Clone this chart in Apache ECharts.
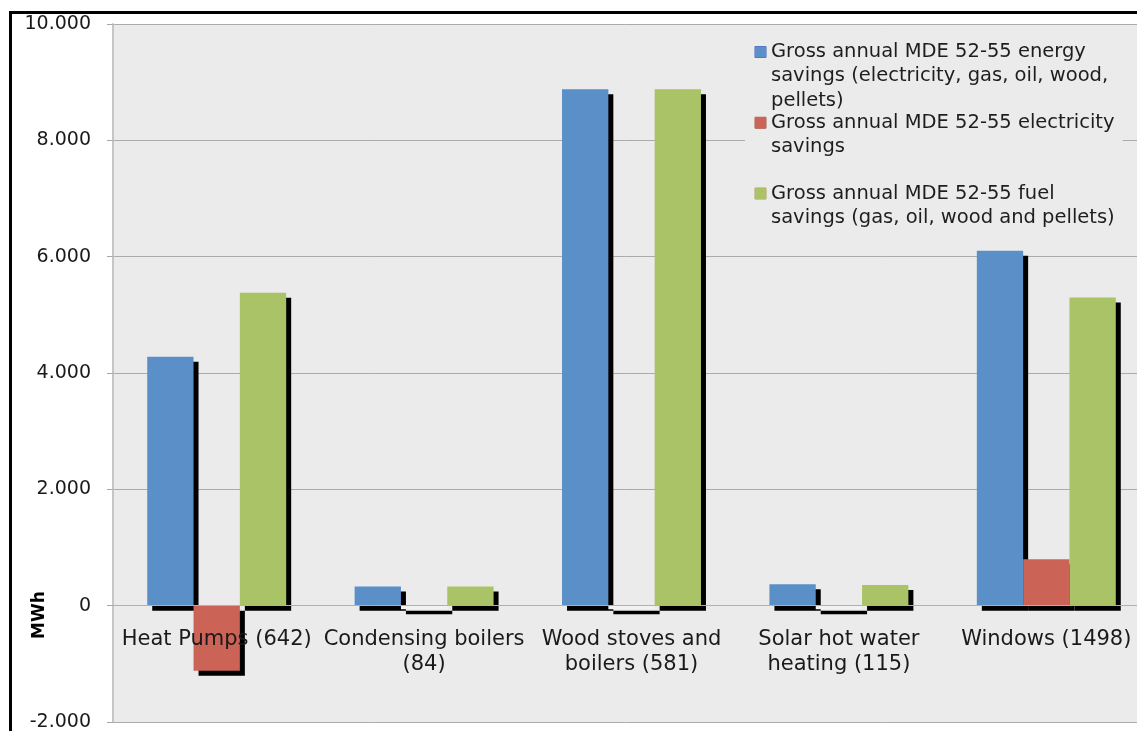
<!DOCTYPE html>
<html>
<head>
<meta charset="utf-8">
<script src="https://cdn.jsdelivr.net/npm/echarts@6/dist/echarts.min.js"></script>
<style>
  html, body { margin: 0; padding: 0; background: #fff; }
  #chart { width: 1137px; height: 731px; }
</style>
</head>
<body>
<div id="chart"></div>
<script>
// categories and values (MWh)
const categories = [
  'Heat Pumps (642)',
  'Condensing boilers\n(84)',
  'Wood stoves and\nboilers (581)',
  'Solar hot water\nheating (115)',
  'Windows (1498)'
]
const seriesNames = [
  'Gross annual MDE 52-55 energy\nsavings (electricity, gas, oil, wood,\npellets)',
  'Gross annual MDE 52-55 electricity\nsavings\n',
  'Gross annual MDE 52-55 fuel\nsavings (gas, oil, wood and pellets)'
]
const energySavings = [4280, 330, 8880, 370, 6100]
const electricitySavings = [-1120, -60, -60, -60, 800]
const fuelSavings = [5380, 330, 8880, 355, 5300]

const yMin = -2000, yMax = 10000, yStep = 2000

const colors = ['#5b8fc7', '#cb6457', '#a9c366']
const borders = ['#4562c4', '#a85a4c', '#b39a68']

const FONT = 'DejaVu Sans'
const gridH = 698
const LH = 24.3

// 10000 -> "10.000"
function fmt(v) {
  const s = String(Math.abs(v)).replace(/\B(?=(\d{3})+(?!\d))/g, '.')
  return v < 0 ? '-' + s : s
}

const rich = {
  t: { fontFamily: FONT, fontSize: 19.5, lineHeight: LH, color: '#1e1e1e' },
  g: { width: 5, lineHeight: LH },
  ind: { width: 16, height: LH, lineHeight: LH }
}
colors.forEach((c, i) => {
  rich['b' + i] = { width: 11, height: 11, backgroundColor: c, borderColor: borders[i], borderWidth: 0.5 }
})

function legendText(name) {
  const idx = seriesNames.indexOf(name)
  return name.split('\n').map((line, i) => {
    if (i === 0) return '{b' + idx + '|}{g|}{t|' + line + '}'
    return line ? '{ind|}{t|' + line + '}' : '{ind|}'
  }).join('\n')
}

function barData(values) {
  // near-zero negative bars show up nearly white in the original
  return values.map(v => (v < 0 && v > -100) ? { value: v, itemStyle: { color: '#f2f2f2' } } : v)
}

const shadow = { shadowColor: '#000', shadowBlur: 0, shadowOffsetX: 5, shadowOffsetY: 5 }

const option = {
  animation: false,
  backgroundColor: '#fff',
  textStyle: { fontFamily: FONT },
  grid: {
    left: 113, top: 24, width: 1037, height: gridH,
    outerBounds: { left: -300, top: -300, right: -300, bottom: -300 },
    show: true, backgroundColor: '#ebebeb', borderWidth: 0
  },
  legend: {
    orient: 'vertical',
    left: 745, top: 37,
    padding: [5, 8, 5, 5],
    itemWidth: 0, itemHeight: 0, itemGap: 0,
    icon: 'none',
    backgroundColor: '#ebebeb',
    data: seriesNames,
    formatter: legendText,
    textStyle: { rich: rich }
  },
  xAxis: {
    type: 'category',
    data: categories,
    z: 3,
    // place the whole axis (line, ticks, labels) on the zero value
    offset: -gridH * (0 - yMin) / (yMax - yMin),
    axisLine: { onZero: false, lineStyle: { color: '#b0b0b0', width: 1 } },
    axisTick: { length: 5, lineStyle: { color: '#a8a8a8' } },
    axisLabel: {
      interval: 0, margin: 21,
      fontFamily: FONT, fontSize: 21, lineHeight: 25, color: '#1a1a1a'
    }
  },
  yAxis: {
    type: 'value',
    min: yMin, max: yMax, interval: yStep,
    axisLine: { show: true, lineStyle: { color: '#c6c6c6', width: 2 } },
    axisTick: { show: true, length: 6, lineStyle: { color: '#a8a8a8' } },
    splitLine: { lineStyle: { color: '#ababab', width: 1 } },
    axisLabel: {
      margin: 22, fontFamily: FONT, fontSize: 19, color: '#1a1a1a',
      formatter: v => fmt(v)
    }
  },
  series: [energySavings, electricitySavings, fuelSavings].map((vals, i) => ({
    type: 'bar',
    name: seriesNames[i],
    data: barData(vals),
    barGap: 0,
    barCategoryGap: '33%',
    itemStyle: Object.assign({ color: colors[i], borderWidth: 0 }, shadow)
  })),
  graphic: [
    {
      type: 'polyline',
      shape: { points: [[10.5, 731], [10.5, 12.5], [1137, 12.5]] },
      style: { stroke: '#000', lineWidth: 3, fill: null },
      z: 100
    },
    {
      type: 'text',
      x: 40, y: 615,
      rotation: Math.PI / 2,
      style: {
        text: 'MWh', fontFamily: FONT, fontWeight: 'bold', fontSize: 17,
        fill: '#000', align: 'center', verticalAlign: 'middle'
      }
    }
  ]
}

const chart = echarts.init(document.getElementById('chart'))
chart.setOption(option)
</script>
</body>
</html>
